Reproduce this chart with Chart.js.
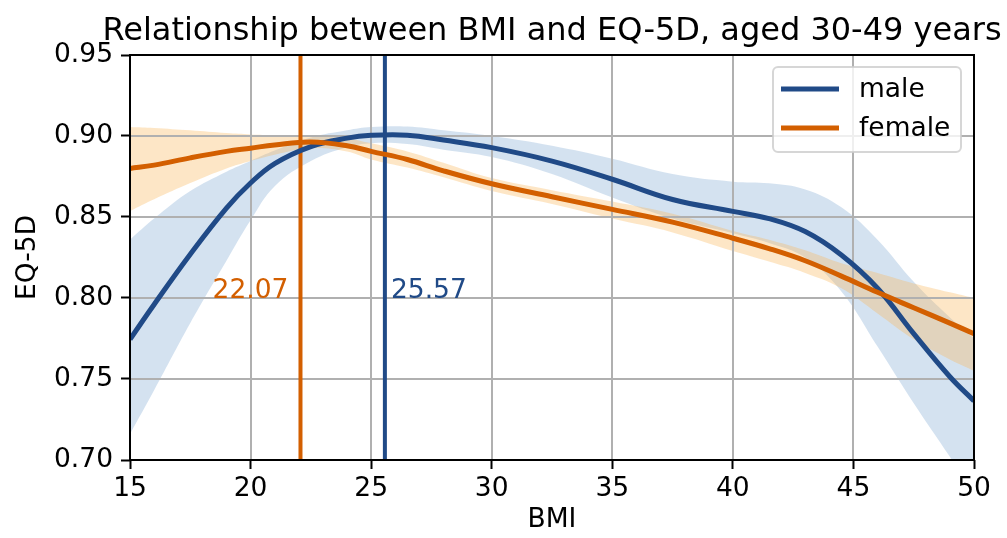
<!DOCTYPE html>
<html>
<head>
<meta charset="utf-8">
<script src="https://cdn.jsdelivr.net/npm/chart.js@4/dist/chart.umd.min.js"></script>
<style>
  html, body { margin: 0; padding: 0; background: #fff; }
</style>
</head>
<body>
<canvas id="bmiChart" width="1007" height="538"></canvas>
<script>
// BMI sample points
var bmi = [15, 16, 17.5, 19, 20, 21, 22.5, 24, 25, 26.5, 28, 30, 32.5, 35, 37.5, 40, 41.5, 43, 44.5, 46, 47.5, 49, 50];

// male fit and confidence band
var maleFit   = [0.7745, 0.796, 0.827, 0.8555, 0.871, 0.883, 0.8935, 0.8987, 0.9004, 0.9005, 0.8975, 0.8928, 0.8845, 0.8733, 0.8608, 0.8535, 0.849, 0.841, 0.8265, 0.806, 0.778, 0.7514, 0.7365];
var maleUpper = [0.836, 0.849, 0.866, 0.878, 0.8846, 0.891, 0.899, 0.9035, 0.9055, 0.9058, 0.9035, 0.900, 0.894, 0.886, 0.8765, 0.8718, 0.8708, 0.867, 0.856, 0.836, 0.810, 0.788, 0.775];
var maleLower = [0.716, 0.743, 0.7845, 0.823, 0.848, 0.869, 0.8845, 0.893, 0.8955, 0.895, 0.8915, 0.887, 0.8765, 0.862, 0.849, 0.840, 0.834, 0.825, 0.804, 0.770, 0.735, 0.702, 0.68];

// female fit and confidence band
var femaleFit   = [0.880, 0.882, 0.8865, 0.8905, 0.8925, 0.8945, 0.8963, 0.894, 0.8905, 0.8855, 0.8785, 0.8705, 0.8625, 0.8547, 0.8468, 0.8369, 0.8305, 0.823, 0.8135, 0.8035, 0.794, 0.7845, 0.778];
var femaleUpper = [0.9056, 0.905, 0.9035, 0.9018, 0.901, 0.9005, 0.900, 0.8985, 0.8955, 0.8905, 0.8835, 0.874, 0.8665, 0.8595, 0.852, 0.8414, 0.836, 0.8295, 0.8215, 0.8155, 0.809, 0.8035, 0.800];
var femaleLower = [0.8537, 0.861, 0.871, 0.880, 0.8846, 0.8885, 0.8925, 0.8905, 0.8855, 0.8805, 0.8745, 0.866, 0.858, 0.849, 0.8405, 0.829, 0.8225, 0.8155, 0.806, 0.7905, 0.7745, 0.762, 0.755];

// BMI at maximum EQ-5D
var maleOpt = 25.57;
var femaleOpt = 22.07;

// axes
var xTicks = [15, 20, 25, 30, 35, 40, 45, 50];
var yTicks = [0.70, 0.75, 0.80, 0.85, 0.90, 0.95];
var yTickLabels = ["0.70", "0.75", "0.80", "0.85", "0.90", "0.95"];

var BLUE = "#204a87";
var ORANGE = "#d35f00";
var FONT = '"DejaVu Sans", sans-serif';

function pts(ys) {
    return bmi.map(function (x, i) { return { x: x, y: ys[i] }; });
}
function vline(x) {
    return [{ x: x, y: yTicks[0] }, { x: x, y: yTicks[yTicks.length - 1] }];
}

var curve = { pointRadius: 0, tension: 0.4, fill: false };

var extras = {
    id: "extras",
    // grid goes above the bands but below the lines
    beforeDatasetsDraw: function (chart) {
        var ctx = chart.ctx, a = chart.chartArea, sx = chart.scales.x, sy = chart.scales.y;
        ctx.save();
        ctx.strokeStyle = "#b0b0b0";
        ctx.lineWidth = 2;
        ctx.beginPath();
        xTicks.forEach(function (v) {
            var p = Math.round(sx.getPixelForValue(v));
            ctx.moveTo(p, a.top); ctx.lineTo(p, a.bottom);
        });
        yTicks.forEach(function (v) {
            var p = Math.round(sy.getPixelForValue(v));
            ctx.moveTo(a.left, p); ctx.lineTo(a.right, p);
        });
        ctx.stroke();
        ctx.restore();
    },
    afterDatasetsDraw: function (chart) {
        var ctx = chart.ctx, a = chart.chartArea, sx = chart.scales.x, sy = chart.scales.y;
        ctx.save();
        // optimum labels
        ctx.font = "26.5px " + FONT;
        ctx.textBaseline = "alphabetic";
        ctx.fillStyle = ORANGE;
        ctx.textAlign = "right";
        ctx.fillText(femaleOpt.toFixed(2), sx.getPixelForValue(femaleOpt - 0.5), sy.getPixelForValue(0.80));
        ctx.fillStyle = BLUE;
        ctx.textAlign = "left";
        ctx.fillText(maleOpt.toFixed(2), sx.getPixelForValue(maleOpt + 0.25), sy.getPixelForValue(0.80));
        // frame
        ctx.strokeStyle = "#000";
        ctx.lineWidth = 2;
        ctx.strokeRect(a.left, a.top, a.right - a.left, a.bottom - a.top);
        ctx.restore();
    },
    afterDraw: function (chart) {
        var ctx = chart.ctx, a = chart.chartArea;
        ctx.save();
        // title
        ctx.font = "32px " + FONT;
        ctx.fillStyle = "#000";
        ctx.textAlign = "center";
        ctx.textBaseline = "alphabetic";
        ctx.fillText("Relationship between BMI and EQ-5D, aged 30-49 years", (a.left + a.right) / 2, 40);
        // legend
        var lx = 773, ly = 67, lw = 188, lh = 85, r = 5;
        ctx.beginPath();
        ctx.moveTo(lx + r, ly);
        ctx.arcTo(lx + lw, ly, lx + lw, ly + lh, r);
        ctx.arcTo(lx + lw, ly + lh, lx, ly + lh, r);
        ctx.arcTo(lx, ly + lh, lx, ly, r);
        ctx.arcTo(lx, ly, lx + lw, ly, r);
        ctx.closePath();
        ctx.fillStyle = "rgba(255,255,255,0.8)";
        ctx.fill();
        ctx.strokeStyle = "rgba(204,204,204,0.8)";
        ctx.lineWidth = 2;
        ctx.stroke();
        var items = [["male", BLUE, 89], ["female", ORANGE, 128]];
        ctx.font = "26.5px " + FONT;
        ctx.textAlign = "left";
        ctx.textBaseline = "middle";
        items.forEach(function (it) {
            ctx.strokeStyle = it[1];
            ctx.lineWidth = 5;
            ctx.beginPath();
            ctx.moveTo(781, it[2]); ctx.lineTo(839, it[2]);
            ctx.stroke();
            ctx.fillStyle = "#000";
            ctx.fillText(it[0], 859, it[2] + 1);
        });
        ctx.restore();
    }
};

var ctx = document.getElementById("bmiChart").getContext("2d");
var chart = new Chart(ctx, {
    type: "line",
    data: {
        datasets: [
            Object.assign({ label: "female", data: pts(femaleFit), borderColor: ORANGE, borderWidth: 5 }, curve),
            Object.assign({ label: "male", data: pts(maleFit), borderColor: BLUE, borderWidth: 5 }, curve),
            Object.assign({ label: "female lower", data: pts(femaleLower), borderWidth: 0 }, curve),
            Object.assign({}, curve, { label: "female upper", data: pts(femaleUpper), borderWidth: 0, fill: "-1", backgroundColor: "rgba(249,181,87,0.34)" }),
            Object.assign({ label: "male lower", data: pts(maleLower), borderWidth: 0 }, curve),
            Object.assign({}, curve, { label: "male upper", data: pts(maleUpper), borderWidth: 0, fill: "-1", backgroundColor: "rgba(71,130,190,0.23)" }),
            { label: "female opt", data: vline(femaleOpt), borderColor: ORANGE, borderWidth: 4, pointRadius: 0, fill: false },
            { label: "male opt", data: vline(maleOpt), borderColor: BLUE, borderWidth: 4, pointRadius: 0, fill: false }
        ]
    },
    options: {
        responsive: false,
        animation: false,
        devicePixelRatio: 1,
        layout: { padding: { top: 55, right: 33, bottom: 0, left: 0 } },
        plugins: {
            legend: { display: false },
            tooltip: { enabled: false },
            filler: { drawTime: "beforeDatasetsDraw" }
        },
        scales: {
            x: {
                type: "linear",
                min: xTicks[0],
                max: xTicks[xTicks.length - 1],
                afterBuildTicks: function (s) { s.ticks = xTicks.map(function (v) { return { value: v }; }); },
                afterFit: function (s) { s.height = 78; },
                ticks: { color: "#000", font: { family: FONT, size: 26.5 }, padding: 4, maxRotation: 0 },
                grid: { drawOnChartArea: false, tickColor: "#000", tickWidth: 2, tickLength: 9 },
                border: { display: false },
                title: { display: true, text: "BMI", color: "#000", font: { family: FONT, size: 26.5 }, padding: { top: 0, bottom: 2 } }
            },
            y: {
                type: "linear",
                min: yTicks[0],
                max: yTicks[yTicks.length - 1],
                afterBuildTicks: function (s) { s.ticks = yTicks.map(function (v) { return { value: v }; }); },
                afterFit: function (s) { s.width = 130; },
                ticks: {
                    color: "#000", font: { family: FONT, size: 26.5 }, padding: 8,
                    callback: function (v, i) { return yTickLabels[i]; }
                },
                grid: { drawOnChartArea: false, tickColor: "#000", tickWidth: 2, tickLength: 9 },
                border: { display: false },
                title: { display: true, text: "EQ-5D", color: "#000", font: { family: FONT, size: 26.5 }, padding: { top: 12, bottom: 0 } }
            }
        }
    },
    plugins: [extras]
});
</script>
</body>
</html>
